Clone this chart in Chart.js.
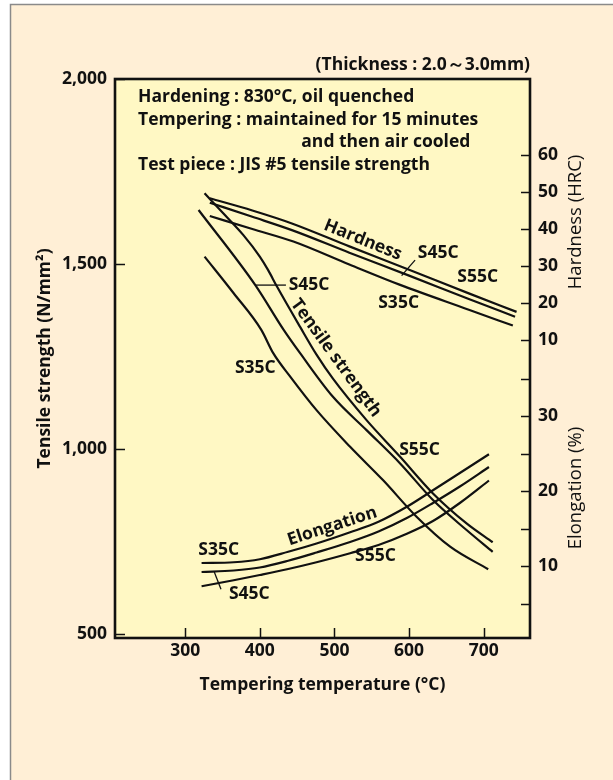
<!DOCTYPE html>
<html>
<head>
<meta charset="utf-8">
<script src="https://cdn.jsdelivr.net/npm/chart.js@4.4.1/dist/chart.umd.min.js"></script>
<style>
  html, body { margin: 0; padding: 0; background: #ffffff; }
  canvas { display: block; }
</style>
</head>
<body>
<canvas id="c" width="613" height="780"></canvas>
<script>
// ---- Tick values for each axis ----
const tempTicks = [300, 400, 500, 600, 700];
const strengthTicks = [500, 1000, 1500, 2000];
const hardnessTicks = [10, 20, 30, 40, 50, 60];
const elongationTicks = [5, 10, 15, 20, 25, 30, 35];
const elongationLabelled = [10, 20, 30];

// ---- Tensile strength (N/mm²) vs tempering temperature (°C) ----
const tsTempS35C = [326, 365, 402, 418, 441, 476, 521, 565, 610, 655, 706];
const tsS35C     = [1520, 1421, 1322, 1259, 1195, 1105, 1006, 916, 817, 736, 675];
const tsTempS45C = [318, 394, 432, 454, 498, 543, 588, 632, 677, 712];
const tsS45C     = [1646, 1443, 1322, 1259, 1141, 1051, 961, 862, 781, 722];
const tsTempS55C = [326, 351, 378, 400, 411, 423, 454, 476, 498, 543, 588, 632, 677, 712];
const tsS55C     = [1691, 1637, 1578, 1520, 1484, 1439, 1330, 1255, 1190, 1078, 979, 880, 799, 748];

// ---- Hardness (HRC) ----
const hrTempS35C = [333, 390, 445, 520, 588, 680, 739];
const hrS35C     = [43.5, 40.0, 36.6, 30.4, 24.9, 18.2, 13.9];
const hrTempS45C = [333, 390, 443, 520, 600, 680, 742];
const hrS45C     = [47.1, 43.3, 39.7, 33.6, 27.4, 21.1, 16.3];
const hrTempS55C = [333, 390, 443, 520, 600, 680, 744];
const hrS55C     = [48.3, 45.0, 41.5, 35.3, 29.0, 22.6, 17.6];

// ---- Elongation (%) ----
const elTemp     = [322, 365, 400, 438, 476, 521, 559, 597, 632, 668, 707];
const elS35C     = [10.4, 10.5, 10.9, 11.9, 13.0, 14.5, 15.9, 17.9, 20.1, 22.4, 24.9];
const elS45C     = [9.2, 9.4, 9.8, 10.7, 11.8, 13.2, 14.6, 16.4, 18.4, 20.6, 23.2];
const elS55C     = [7.3, 8.1, 8.8, 9.6, 10.5, 11.7, 12.8, 14.3, 16.0, 18.4, 21.4];

// ---- Colours and fonts ----
const PAGE_BG = '#FFEFD6';
const PLOT_BG = '#FFF8C4';
const INK = '#111111';
const FAMILY = "'Open Sans', 'Noto Sans', 'DejaVu Sans', sans-serif";
const FONT_SIZE = 17.5;
const SIDE_TITLE_SIZE = 18.5;

function pts(xs, ys) { return xs.map((x, i) => ({ x: x, y: ys[i] })); }
function line(label, xs, ys, axis) {
  return {
    label: label, data: pts(xs, ys), yAxisID: axis,
    borderColor: INK, borderWidth: 2.2, pointRadius: 0,
    cubicInterpolationMode: 'monotone', fill: false
  };
}

// Labels placed in data coordinates of the given axis
const curveLabels = [
  { text: 'Hardness', x: 538, y: 37.0, axis: 'hrc', angle: 22 },
  { text: 'S45C', x: 639, y: 33.4, axis: 'hrc', angle: 0 },
  { text: 'S55C', x: 692, y: 26.9, axis: 'hrc', angle: 0 },
  { text: 'S35C', x: 586, y: 20.1, axis: 'hrc', angle: 0 },
  { text: 'S45C', x: 466, y: 1443, axis: 'ts', angle: 0 },
  { text: 'Tensile strength', x: 502, y: 1246, axis: 'ts', angle: 54 },
  { text: 'S35C', x: 394, y: 1218, axis: 'ts', angle: 0 },
  { text: 'S55C', x: 614, y: 997, axis: 'ts', angle: 0 },
  { text: 'Elongation', x: 497, y: 15.3, axis: 'el', angle: -18 },
  { text: 'S35C', x: 345, y: 12.1, axis: 'el', angle: 0 },
  { text: 'S55C', x: 555, y: 11.3, axis: 'el', angle: 0 },
  { text: 'S45C', x: 386, y: 6.3, axis: 'el', angle: 0 }
];
const leaders = [
  { axis: 'hrc', x1: 608, y1: 31.6, x2: 590, y2: 27.4 },
  { axis: 'ts', x1: 394, y1: 1443, x2: 435, y2: 1443 },
  { axis: 'el', x1: 339, y1: 9.2, x2: 348, y2: 6.9 }
];

const headerLines = [
  'Hardening : 830°C, oil quenched',
  'Tempering : maintained for 15 minutes',
  'and then air cooled',
  'Test piece : JIS #5 tensile strength'
];

const bold = (s) => `700 ${s}px ${FAMILY}`;

const decor = {
  id: 'decor',
  beforeDraw(chart) {
    const { ctx, width, height, chartArea: a } = chart;
    ctx.save();
    ctx.fillStyle = '#ffffff';
    ctx.fillRect(0, 0, width, height);
    ctx.fillStyle = PAGE_BG;
    ctx.fillRect(10, 4, width - 10, height - 4);
    ctx.strokeStyle = '#8a8a8a';
    ctx.lineWidth = 1.5;
    ctx.beginPath();
    ctx.moveTo(10.5, height);
    ctx.lineTo(10.5, 4.5);
    ctx.lineTo(width, 4.5);
    ctx.stroke();
    ctx.fillStyle = PLOT_BG;
    ctx.fillRect(a.left, a.top, a.width, a.height);
    ctx.restore();
  },
  afterDatasetsDraw(chart) {
    const { ctx, chartArea: a, scales } = chart;
    ctx.save();
    ctx.fillStyle = INK;
    ctx.strokeStyle = INK;
    ctx.font = bold(FONT_SIZE);
    ctx.textAlign = 'center';
    ctx.textBaseline = 'middle';
    curveLabels.forEach(l => {
      const px = scales.x.getPixelForValue(l.x);
      const py = scales[l.axis].getPixelForValue(l.y);
      ctx.save();
      ctx.translate(px, py);
      ctx.rotate(l.angle * Math.PI / 180);
      ctx.fillText(l.text, 0, 0);
      ctx.restore();
    });
    ctx.lineWidth = 1.3;
    leaders.forEach(l => {
      ctx.beginPath();
      ctx.moveTo(scales.x.getPixelForValue(l.x1), scales[l.axis].getPixelForValue(l.y1));
      ctx.lineTo(scales.x.getPixelForValue(l.x2), scales[l.axis].getPixelForValue(l.y2));
      ctx.stroke();
    });

    // condition notes in the upper-left of the plot
    ctx.textAlign = 'left';
    ctx.textBaseline = 'alphabetic';
    const x0 = a.left + 23;
    const indent = ctx.measureText(headerLines[1]).width * 0.48;
    headerLines.forEach((t, i) => {
      ctx.fillText(t, x0 + (i === 2 ? indent : 0), a.top + 23 + i * 22.5);
    });
    ctx.restore();
  },
  afterDraw(chart) {
    const { ctx, chartArea: a, scales } = chart;
    ctx.save();
    ctx.strokeStyle = INK;
    // inward tick marks
    ctx.lineWidth = 1.5;
    ctx.beginPath();
    tempTicks.forEach(v => {
      const px = Math.round(scales.x.getPixelForValue(v)) + 0.5;
      ctx.moveTo(px, a.bottom); ctx.lineTo(px, a.bottom - 10);
    });
    strengthTicks.forEach(v => {
      const py = Math.round(scales.ts.getPixelForValue(v)) + 0.5;
      ctx.moveTo(a.left, py); ctx.lineTo(a.left + 10, py);
    });
    hardnessTicks.forEach(v => {
      const py = Math.round(scales.hrc.getPixelForValue(v)) + 0.5;
      ctx.moveTo(a.right, py); ctx.lineTo(a.right - 9, py);
    });
    elongationTicks.forEach(v => {
      const py = Math.round(scales.el.getPixelForValue(v)) + 0.5;
      ctx.moveTo(a.right, py); ctx.lineTo(a.right - 9, py);
    });
    ctx.stroke();
    // plot frame
    ctx.lineWidth = 2.6;
    ctx.strokeRect(a.left, a.top, a.width, a.height);

    // specimen thickness note above the frame
    ctx.fillStyle = INK;
    ctx.font = bold(FONT_SIZE);
    ctx.textAlign = 'right';
    ctx.textBaseline = 'alphabetic';
    ctx.fillText('(Thickness : 2.0～3.0mm)', a.right, a.top - 9);

    // right-hand axis titles, reading bottom to top
    ctx.font = `400 ${SIDE_TITLE_SIZE}px ${FAMILY}`;
    ctx.textAlign = 'center';
    ctx.textBaseline = 'middle';
    const titles = [
      { text: 'Hardness (HRC)', axis: 'hrc', v: 41.9 },
      { text: 'Elongation (%)', axis: 'el', v: 20.4 }
    ];
    titles.forEach(t => {
      ctx.save();
      ctx.translate(a.right + 46, scales[t.axis].getPixelForValue(t.v));
      ctx.rotate(-Math.PI / 2);
      ctx.fillText(t.text, 0, 0);
      ctx.restore();
    });
    ctx.restore();
  }
};

const tickFont = { family: FAMILY, size: FONT_SIZE, weight: '700' };

new Chart(document.getElementById('c').getContext('2d'), {
  type: 'line',
  data: {
    datasets: [
      line('Tensile S35C', tsTempS35C, tsS35C, 'ts'),
      line('Tensile S45C', tsTempS45C, tsS45C, 'ts'),
      line('Tensile S55C', tsTempS55C, tsS55C, 'ts'),
      line('Hardness S35C', hrTempS35C, hrS35C, 'hrc'),
      line('Hardness S45C', hrTempS45C, hrS45C, 'hrc'),
      line('Hardness S55C', hrTempS55C, hrS55C, 'hrc'),
      line('Elongation S35C', elTemp, elS35C, 'el'),
      line('Elongation S45C', elTemp, elS45C, 'el'),
      line('Elongation S55C', elTemp, elS55C, 'el')
    ]
  },
  options: {
    responsive: false,
    animation: false,
    devicePixelRatio: 1,
    layout: { padding: { top: 79, left: 0, right: 0, bottom: 0 } },
    plugins: { legend: { display: false }, tooltip: { enabled: false } },
    scales: {
      x: {
        type: 'linear', position: 'bottom', min: 206, max: 762,
        afterBuildTicks: s => { s.ticks = tempTicks.map(v => ({ value: v })); },
        afterFit: s => { s.height = 142; },
        grid: { display: false, drawTicks: false },
        border: { display: false },
        ticks: { font: tickFont, color: INK, padding: 3, maxRotation: 0, autoSkip: false },
        title: {
          display: true, text: 'Tempering temperature (°C)', color: INK,
          font: tickFont, padding: { top: 0, bottom: 84 }
        }
      },
      ts: {
        type: 'linear', position: 'left', min: 489.2, max: 2000,
        afterBuildTicks: s => { s.ticks = strengthTicks.map(v => ({ value: v })); },
        afterFit: s => { s.width = 115; },
        grid: { display: false, drawTicks: false },
        border: { display: false },
        ticks: { font: tickFont, color: INK, padding: 8, callback: v => v.toLocaleString('en-US') },
        title: {
          display: true, text: 'Tensile strength (N/mm²)', color: INK,
          font: tickFont, padding: { top: 35, bottom: 0 }
        }
      },
      hrc: {
        type: 'linear', position: 'right', stack: 'right', stackWeight: 1,
        min: 5.0, max: 80.54,
        afterBuildTicks: s => { s.ticks = hardnessTicks.map(v => ({ value: v })); },
        afterFit: s => { s.width = 83; },
        grid: { display: false, drawTicks: false },
        border: { display: false },
        ticks: { font: tickFont, color: INK, padding: 8 }
      },
      el: {
        type: 'linear', position: 'right', stack: 'right', stackWeight: 1,
        min: 0.4, max: 37.667,
        afterBuildTicks: s => { s.ticks = elongationTicks.map(v => ({ value: v })); },
        afterFit: s => { s.width = 83; },
        grid: { display: false, drawTicks: false },
        border: { display: false },
        ticks: {
          font: tickFont, color: INK, padding: 8,
          callback: v => elongationLabelled.includes(v) ? String(v) : ''
        }
      }
    }
  },
  plugins: [decor]
});
</script>
</body>
</html>
